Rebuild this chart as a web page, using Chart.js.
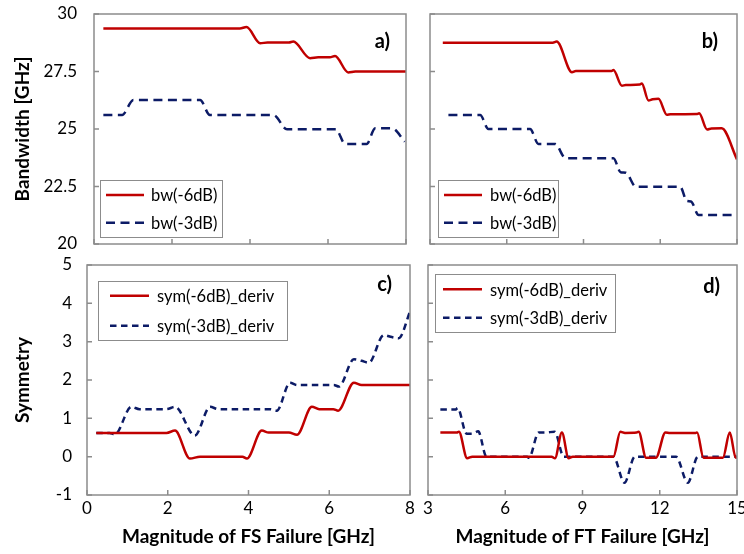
<!DOCTYPE html>
<html><head><meta charset="utf-8">
<script src="https://cdn.jsdelivr.net/npm/chart.js@4/dist/chart.umd.min.js"></script>
<style>html,body{margin:0;padding:0;background:#fff;width:744px;height:554px;overflow:hidden}canvas{position:absolute;left:0;top:0}</style>
</head><body>
<canvas id="ca" width="744" height="554"></canvas>
<canvas id="cb" width="744" height="554"></canvas>
<canvas id="cc" width="744" height="554"></canvas>
<canvas id="cd" width="744" height="554"></canvas>
<script>
// ---- tick values ----
const bwTicks = [20, 22.5, 25, 27.5, 30];
const symTicks = [-1, 0, 1, 2, 3, 4, 5];
const fsTicks = [0, 2, 4, 6, 8];
const ftTicks = [3, 6, 9, 12, 15];

// ---- labels ----
const bwNames = ['bw(-6dB)', 'bw(-3dB)'];
const symNames = ['sym(-6dB)_deriv', 'sym(-3dB)_deriv'];
const panelTags = ['a)', 'b)', 'c)', 'd)'];
const yTitles = ['Bandwidth [GHz]', 'Symmetry'];
const xTitles = ['Magnitude of FS Failure [GHz]', 'Magnitude of FT Failure [GHz]'];

// ---- panel a: bandwidth vs FS failure ----
const aX6 = [0.24, 3.74, 3.91, 4.26, 4.45, 5.0, 5.11, 5.54, 5.75, 6.05, 6.18, 6.52, 6.7, 8.0];
const aY6 = [29.37, 29.37, 29.43, 28.73, 28.76, 28.76, 28.80, 28.08, 28.12, 28.12, 28.17, 27.46, 27.5, 27.5];
const aX3 = [0.24, 0.72, 1.01, 2.72, 2.97, 4.6, 4.95, 6.2, 6.44, 6.99, 7.21, 7.64, 7.97];
const aY3 = [25.61, 25.61, 26.26, 26.26, 25.61, 25.61, 24.99, 24.99, 24.35, 24.35, 25.03, 25.03, 24.45];

// ---- panel b: bandwidth vs FT failure ----
const bX6 = [3.5, 7.8, 7.95, 8.55, 8.7, 10.1, 10.17, 10.5, 10.65, 11.2, 11.28, 11.54, 11.7, 11.93, 12.26, 12.4, 13.45, 13.52, 13.83, 14.0, 14.4, 15.0];
const bY6 = [28.75, 28.75, 28.8, 27.47, 27.52, 27.52, 27.56, 26.88, 26.91, 26.93, 26.98, 26.24, 26.29, 26.31, 25.62, 25.64, 25.65, 25.68, 24.98, 25.02, 25.03, 23.68];
const bX3 = [3.72, 4.96, 5.28, 6.91, 7.24, 7.89, 8.3, 10.17, 10.45, 10.65, 11.05, 12.78, 13.04, 13.2, 13.5, 15.0];
const bY3 = [25.61, 25.61, 25.0, 25.0, 24.35, 24.35, 23.73, 23.73, 23.12, 23.1, 22.49, 22.49, 21.87, 21.85, 21.26, 21.26];

// ---- panel c: symmetry vs FS failure ----
const cX6 = [0.23, 1.97, 2.18, 2.55, 2.8, 3.85, 3.96, 4.33, 4.5, 5.0, 5.2, 5.57, 5.75, 6.1, 6.22, 6.61, 6.8, 8.0];
const cY6 = [0.62, 0.62, 0.68, -0.05, 0, 0, -0.05, 0.68, 0.63, 0.63, 0.57, 1.30, 1.24, 1.24, 1.2, 1.93, 1.87, 1.87];
const cX3 = [0.23, 0.56, 0.69, 1.1, 1.3, 1.97, 2.18, 2.67, 3.05, 3.25, 4.54, 4.7, 5.03, 5.2, 6.11, 6.24, 6.61, 6.8, 6.98, 7.35, 7.55, 7.72, 8.0];
const cY3 = [0.62, 0.62, 0.58, 1.30, 1.24, 1.24, 1.30, 0.55, 1.30, 1.24, 1.24, 1.2, 1.93, 1.87, 1.87, 1.83, 2.54, 2.5, 2.45, 3.17, 3.12, 3.09, 3.78];

// ---- panel d: symmetry vs FT failure ----
const dX6 = [3.48, 4.12, 4.2, 4.52, 4.72, 7.8, 7.93, 8.2, 8.46, 8.62, 10.2, 10.47, 10.65, 11.1, 11.18, 11.47, 11.85, 12.22, 12.4, 13.4, 13.45, 13.7, 14.45, 14.72, 14.95, 15.0];
const dY6 = [0.63, 0.63, 0.65, -0.04, 0, 0, -0.04, 0.63, -0.04, 0, 0, 0.65, 0.62, 0.63, 0.65, -0.03, -0.03, 0.63, 0.62, 0.62, 0.63, -0.03, -0.03, 0.63, -0.03, 0];
const dX3 = [3.48, 4.08, 4.15, 4.5, 4.7, 4.95, 5.27, 6.85, 6.92, 7.3, 7.55, 7.92, 8.27, 10.2, 10.63, 11.03, 12.63, 13.09, 13.48, 15.0];
const dY3 = [1.23, 1.23, 1.27, 0.6, 0.6, 0.66, 0, 0, -0.03, 0.63, 0.63, 0.65, 0, 0, -0.68, 0, 0, -0.68, 0, 0];

const RED = '#C00000', NAVY = '#0C1B66', FRAME = '#8c8c8c';
const FONT = 'Lato';
const W = 744, H = 554;

function pts(xs, ys) { return xs.map((x, i) => ({x: x, y: ys[i]})); }

const deco = {
  id: 'deco',
  afterDraw(chart, args, o) {
    const ctx = chart.ctx, A = chart.chartArea;
    ctx.save();
    ctx.strokeStyle = FRAME; ctx.lineWidth = 1.5;
    ctx.strokeRect(A.left, A.top, A.right - A.left, A.bottom - A.top);
    const sx = chart.scales.x, sy = chart.scales.y;
    ctx.beginPath();
    sx.ticks.forEach(t => { const p = sx.getPixelForValue(t.value); ctx.moveTo(p, A.bottom); ctx.lineTo(p, A.bottom - 5); });
    sy.ticks.forEach(t => { const p = sy.getPixelForValue(t.value); ctx.moveTo(A.left, p); ctx.lineTo(A.left + 5, p); });
    ctx.stroke();
    ctx.fillStyle = '#000';
    ctx.font = 'bold 20px ' + FONT;
    ctx.textAlign = 'right'; ctx.textBaseline = 'middle';
    ctx.fillText(o.tag, o.tagX, o.tagY);
    const L = o.leg;
    ctx.fillStyle = '#fff';
    ctx.fillRect(L.x, L.y, L.w, L.h);
    ctx.strokeStyle = FRAME; ctx.lineWidth = 1;
    ctx.strokeRect(L.x + 0.5, L.y + 0.5, L.w, L.h);
    ctx.font = L.size + 'px ' + FONT;
    ctx.textAlign = 'left';
    chart.data.datasets.forEach((ds, i) => {
      const ry = L.rows[i];
      ctx.strokeStyle = ds.borderColor; ctx.lineWidth = ds.borderWidth;
      ctx.setLineDash(ds.borderDash || []);
      ctx.beginPath(); ctx.moveTo(L.l0, ry); ctx.lineTo(L.l1, ry); ctx.stroke();
      ctx.setLineDash([]);
      ctx.fillStyle = '#000';
      ctx.fillText(ds.label, L.tx, ry + 1);
    });
    ctx.restore();
  }
};

function noPad(s) { s.paddingTop = 0; s.paddingBottom = 0; s.paddingLeft = 0; s.paddingRight = 0; }

function panel(id, c) {
  const A = c.area;
  return new Chart(document.getElementById(id), {
    type: 'line',
    data: { datasets: [
      { label: c.names[0], data: pts(c.x6, c.y6), borderColor: RED, borderWidth: 2.5, pointRadius: 0, cubicInterpolationMode: 'monotone', fill: false },
      { label: c.names[1], data: pts(c.x3, c.y3), borderColor: NAVY, borderWidth: 2.5, borderDash: c.dash, pointRadius: 0, cubicInterpolationMode: 'monotone', fill: false }
    ]},
    options: {
      responsive: false, animation: false, devicePixelRatio: 1,
      layout: { padding: { left: 0, top: A.t, right: W - A.r, bottom: 0 } },
      plugins: { legend: { display: false }, tooltip: { enabled: false }, deco: c.deco },
      scales: {
        x: {
          type: 'linear', min: c.xt[0], max: c.xt[c.xt.length - 1],
          afterBuildTicks: s => { s.ticks = c.xt.map(v => ({value: v})); },
          afterFit: s => { s.height = H - A.b; noPad(s); },
          grid: { display: false, drawTicks: false }, border: { display: false },
          ticks: { display: c.showX, padding: 3, color: '#000', font: { family: FONT, size: 17 }, callback: v => String(v), autoSkip: false, maxRotation: 0 },
          title: { display: !!c.xTitle, text: c.xTitle || '', color: '#000', font: { family: FONT, size: 19, weight: 'bold' }, padding: { top: 0, bottom: 6 } }
        },
        y: {
          type: 'linear', min: c.yt[0], max: c.yt[c.yt.length - 1],
          afterBuildTicks: s => { s.ticks = c.yt.map(v => ({value: v})); },
          afterFit: s => { s.width = A.l; noPad(s); },
          grid: { display: false, drawTicks: false }, border: { display: false },
          ticks: { display: c.showY, padding: c.yPad || 15, color: '#000', font: { family: FONT, size: 17 }, callback: v => String(v), autoSkip: false },
          title: { display: !!c.yTitle, text: c.yTitle || '', color: '#000', font: { family: FONT, size: 19, weight: 'bold' }, padding: { top: 11, bottom: 0 } }
        }
      }
    },
    plugins: [deco]
  });
}

panel('ca', { area: {l: 94, t: 14, r: 406, b: 244}, xt: fsTicks, yt: bwTicks, names: bwNames,
  x6: aX6, y6: aY6, x3: aX3, y3: aY3, dash: [9, 5.5], showX: false, showY: true, yPad: 17, yTitle: yTitles[0],
  deco: { tag: panelTags[0], tagX: 390, tagY: 42, leg: { x: 100, y: 180, w: 122, h: 57, l0: 106, l1: 144, tx: 151, rows: [195, 222.7], size: 16.5 } } });

panel('cb', { area: {l: 430, t: 14, r: 737, b: 244}, xt: ftTicks, yt: bwTicks, names: bwNames,
  x6: bX6, y6: bY6, x3: bX3, y3: bY3, dash: [9, 5.5], showX: false, showY: false,
  deco: { tag: panelTags[1], tagX: 718, tagY: 42, leg: { x: 438, y: 180, w: 120, h: 57, l0: 444, l1: 482, tx: 490, rows: [195, 222.7], size: 16.5 } } });

panel('cc', { area: {l: 87, t: 265, r: 410, b: 495}, xt: fsTicks, yt: symTicks, names: symNames,
  x6: cX6, y6: cY6, x3: cX3, y3: cY3, dash: [6.5, 4.5], showX: true, showY: true, yPad: 15, yTitle: yTitles[1], xTitle: xTitles[0],
  deco: { tag: panelTags[2], tagX: 392, tagY: 285, leg: { x: 98, y: 281, w: 189, h: 59, l0: 110, l1: 149, tx: 157, rows: [295.7, 325.7], size: 16.5 } } });

panel('cd', { area: {l: 428, t: 265, r: 737, b: 495}, xt: ftTicks, yt: symTicks, names: symNames,
  x6: dX6, y6: dY6, x3: dX3, y3: dY3, dash: [6.5, 4.5], showX: true, showY: false, xTitle: xTitles[1],
  deco: { tag: panelTags[3], tagX: 720, tagY: 287, leg: { x: 435, y: 274, w: 180, h: 58, l0: 443, l1: 482, tx: 490, rows: [289.3, 317.7], size: 16.5 } } });
</script>
</body></html>
